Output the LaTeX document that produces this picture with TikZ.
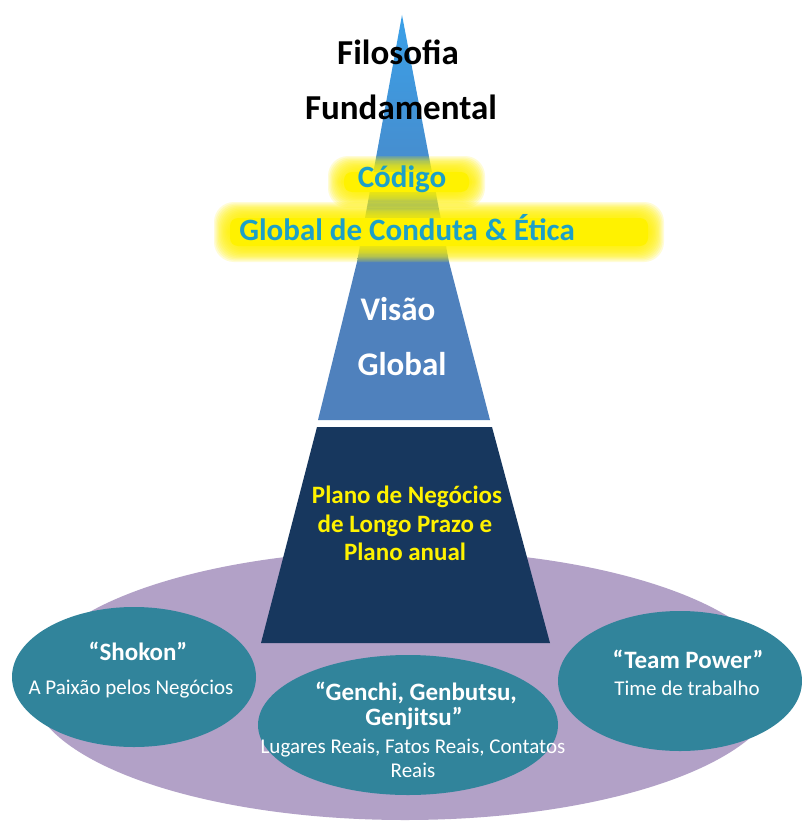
\documentclass[tikz,border=0pt]{standalone}
\usepackage{fontspec}
\setmainfont{Carlito}
\usetikzlibrary{shapes}

\definecolor{skyblue}{RGB}{58,160,232}
\definecolor{visblue}{RGB}{79,129,189}
\definecolor{navyblue}{RGB}{23,55,94}
\definecolor{lilac}{RGB}{178,161,199}
\definecolor{ovalteal}{RGB}{49,132,155}
\definecolor{codecyan}{RGB}{28,160,200}

\begin{document}
\begin{tikzpicture}[x=1pt,y=1pt,
	bigtitle/.style={font=\fontsize{35}{40}\selectfont\bfseries,black},
	codetext/.style={font=\fontsize{31}{36}\selectfont\bfseries,codecyan},
	vistext/.style={font=\fontsize{33}{38}\selectfont\bfseries,white},
	plantext/.style={font=\fontsize{25}{29}\selectfont\bfseries,yellow},
	ovalhead/.style={font=\fontsize{25}{29}\selectfont\bfseries,white},
	ovalsub/.style={font=\fontsize{21}{24}\selectfont,white}]
	\tikzstyle{every node}+=[inner sep=0pt,anchor=base]
	\useasboundingbox (0,0) rectangle (801,-824);
	\fill [white] (0,0) rectangle (801,-824);
	% base ellipse
	\fill [lilac] (405,-685) ellipse (375 and 135);
	% pyramid
	\fill [navyblue] (317,-427) -- (492,-427) -- (550,-643) -- (261,-643) -- cycle;
	\shade [top color=skyblue,bottom color=visblue] (402,-15) -- (449,-262) -- (357,-262) -- cycle;
	\fill [visblue] (357,-262) -- (449,-262) -- (490,-420) -- (318,-420) -- cycle;
	% three ovals
	\fill [ovalteal] (134,-677) ellipse (122 and 70);
	\fill [ovalteal] (408,-725) ellipse (150 and 70);
	\fill [ovalteal] (680,-681) ellipse (122 and 70);
	% yellow glow
	\foreach \g in {0,...,11} {
		\fill [yellow,opacity=0.16,rounded corners=20] ({328+1.3*\g},{-156-1.3*\g}) rectangle ({485-1.3*\g},{-208+1.3*\g});
		\fill [yellow,opacity=0.16,rounded corners=20] ({214+1.3*\g},{-202-1.3*\g}) rectangle ({664-1.3*\g},{-262+1.3*\g});
	}
	\fill [yellow,rounded corners=8] (344,-172) rectangle (469,-192);
	\fill [yellow,rounded corners=8] (230,-218) rectangle (648,-246);
	% texts
	\node [bigtitle] (filo) at (398,-65) {Filosofia};
	\node [bigtitle] (fund) at (401,-120) {Fundamental};
	\node [codetext] (cod) at (402,-187) {Código};
	\node [codetext] (cond) at (407,-240) {Global de Conduta \& Ética};
	\node [vistext] (vis) at (398,-320) {Visão};
	\node [vistext] (visg) at (402,-375) {Global};
	\node [plantext] (plan1) at (407,-503) {Plano de Negócios};
	\node [plantext] (plan2) at (405,-532) {de Longo Prazo e};
	\node [plantext] (plan3) at (405,-560) {Plano anual};
	\node [ovalhead] (shok) at (138,-660) {“Shokon”};
	\node [ovalsub] (shoks) at (131,-694) {A Paixão pelos Negócios};
	\node [ovalhead] (team) at (688,-668) {“Team Power”};
	\node [ovalsub] (teams) at (687,-695) {Time de trabalho};
	\node [ovalhead] (gen1) at (416,-700) {“Genchi, Genbutsu,};
	\node [ovalhead] (gen2) at (414,-725) {Genjitsu”};
	\node [ovalsub] (gens1) at (413,-753) {Lugares Reais, Fatos Reais, Contatos};
	\node [ovalsub] (gens2) at (413,-777) {Reais};
\end{tikzpicture}
\end{document}
